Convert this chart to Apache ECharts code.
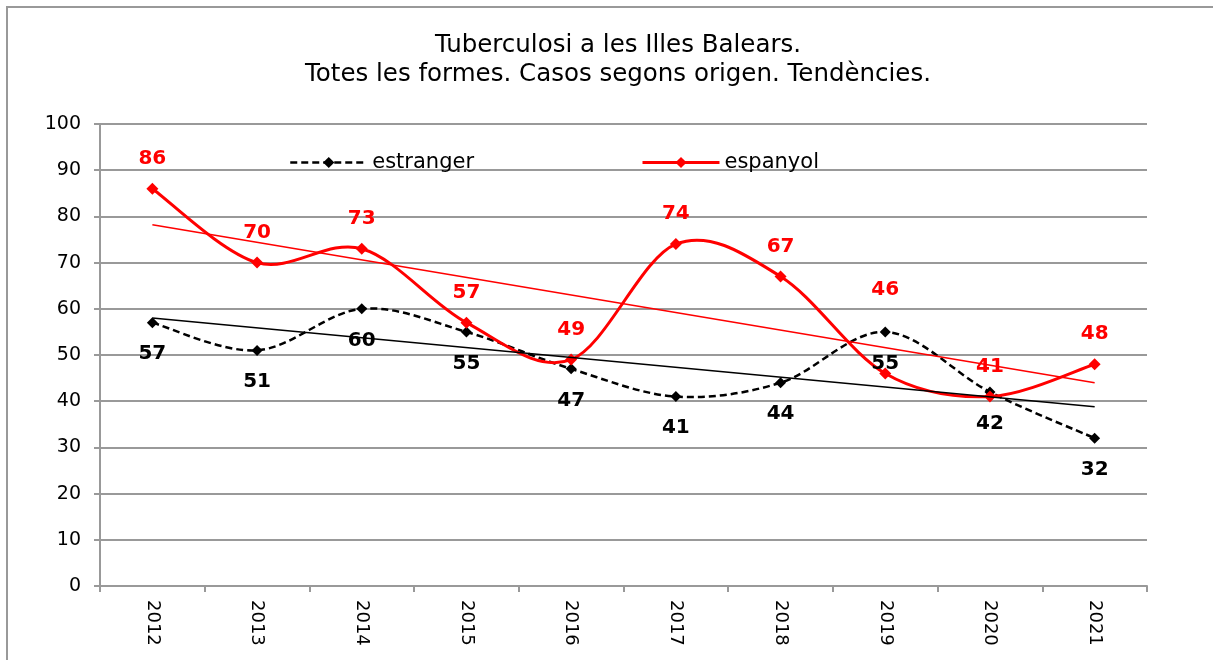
<!DOCTYPE html>
<html>
<head>
<meta charset="utf-8">
<script src="https://cdn.jsdelivr.net/npm/echarts@6/dist/echarts.min.js"></script>
<style>
  html, body { margin: 0; padding: 0; background: #fff; }
  #chart { width: 1213px; height: 660px; }
</style>
</head>
<body>
<div id="chart"></div>
<script>
// categories and values
var years = ['2012', '2013', '2014', '2015', '2016', '2017', '2018', '2019', '2020', '2021'];
var estranger = [57, 51, 60, 55, 47, 41, 44, 55, 42, 32];
var espanyol = [86, 70, 73, 57, 49, 74, 67, 46, 41, 48];
// trend line ends (first and last year), as drawn
var trendEstranger = [58.0, 38.8];
var trendEspanyol = [78.2, 44.0];

function ends(vals) {
  return [[years[0], vals[0]], [years[years.length - 1], vals[1]]];
}

// Excel-like smoothed line (Catmull-Rom through the points), drawn in axis coords
function curve(vals, color, width, dash, z) {
  return {
    type: 'custom',
    data: vals.map(function (v, i) { return [i, v]; }),
    encode: { x: 0, y: 1 },
    silent: true,
    z: z,
    renderItem: function (params, api) {
      if (params.dataIndex !== 0) return null;
      var n = vals.length;
      var p = function (j) {
        j = Math.max(0, Math.min(n - 1, j));
        return api.coord([j, vals[j]]);
      };
      var start = p(0);
      var d = 'M' + start[0] + ' ' + start[1];
      for (var i = 0; i < n - 1; i++) {
        var p0 = p(i - 1), p1 = p(i), p2 = p(i + 1), p3 = p(i + 2);
        var c1x = p1[0] + (p2[0] - p0[0]) / 6, c1y = p1[1] + (p2[1] - p0[1]) / 6;
        var c2x = p2[0] - (p3[0] - p1[0]) / 6, c2y = p2[1] - (p3[1] - p1[1]) / 6;
        d += ' C' + c1x + ' ' + c1y + ' ' + c2x + ' ' + c2y + ' ' + p2[0] + ' ' + p2[1];
      }
      return {
        type: 'path',
        shape: { pathData: d },
        style: { stroke: color, lineWidth: width, fill: null, lineDash: dash }
      };
    }
  };
}

var labelFont = { fontFamily: 'DejaVu Sans', fontWeight: 'bold', fontSize: 20 };

var espanylData = espanyol.map(function (v, i) {
  // Excel lifted the 2019 label clear of the other series
  return i === 7 ? { value: v, label: { distance: 68 } } : v;
});

var chart = echarts.init(document.getElementById('chart'), null, { renderer: 'canvas' });

chart.setOption({
  animation: false,
  backgroundColor: '#fff',
  title: {
    text: 'Tuberculosi a les Illes Balears.\nTotes les formes. Casos segons origen. Tendències.',
    left: 613,
    top: 26,
    textAlign: 'center',
    textStyle: {
      fontFamily: 'DejaVu Sans',
      fontSize: 24.5,
      fontWeight: 'normal',
      color: '#000',
      lineHeight: 29
    }
  },
  graphic: [{
    type: 'rect',
    shape: { x: 7, y: 7, width: 1300, height: 700 },
    style: { fill: 'none', stroke: '#999', lineWidth: 2 },
    silent: true
  }],
  legend: [{
    data: [{ name: 'estranger', lineStyle: { color: '#000', width: 2.5, type: [7, 4], opacity: 1 } }],
    left: 289, top: 152, padding: 0,
    itemWidth: 77, itemHeight: 14,
    textStyle: { fontFamily: 'DejaVu Sans', fontSize: 21, color: '#000' }
  }, {
    data: [{ name: 'espanyol', lineStyle: { color: '#ff0000', width: 3, type: 'solid', opacity: 1 } }],
    left: 641, top: 152, padding: 0,
    itemWidth: 77, itemHeight: 14,
    textStyle: { fontFamily: 'DejaVu Sans', fontSize: 21, color: '#000' }
  }],
  grid: { left: 100, right: 66, top: 124, bottom: 74 },
  xAxis: {
    type: 'category',
    data: years,
    boundaryGap: true,
    axisLine: { lineStyle: { color: '#999', width: 2 } },
    axisTick: { show: true, inside: false, length: 6, lineStyle: { color: '#999', width: 2 } },
    axisLabel: {
      rotate: -90,
      margin: 14,
      fontFamily: 'DejaVu Sans',
      fontSize: 18,
      color: '#000'
    },
    splitLine: { show: false }
  },
  yAxis: {
    type: 'value',
    min: 0, max: 100, interval: 10,
    axisLine: { show: true, lineStyle: { color: '#999', width: 2 } },
    axisTick: { show: true, length: 6, lineStyle: { color: '#999', width: 2 } },
    axisLabel: {
      margin: 19,
      fontFamily: 'DejaVu Sans',
      fontSize: 19,
      color: '#000'
    },
    splitLine: { show: true, lineStyle: { color: '#999', width: 2 } }
  },
  series: [
    curve(estranger, '#000', 2.5, [7, 4], 3),
    curve(espanyol, '#ff0000', 3, null, 4),
    {
      name: 'estranger',
      type: 'line',
      data: estranger,
      symbol: 'diamond',
      symbolSize: 11,
      itemStyle: { color: '#000' },
      lineStyle: { color: '#000', width: 2.5, opacity: 0 },
      label: Object.assign({ show: true, position: 'bottom', distance: 16, color: '#000' }, labelFont),
      z: 5
    }, {
      name: 'espanyol',
      type: 'line',
      data: espanylData,
      symbol: 'diamond',
      symbolSize: 12,
      itemStyle: { color: '#ff0000' },
      lineStyle: { color: '#ff0000', width: 3, opacity: 0 },
      label: Object.assign({ show: true, position: 'top', distance: 14, color: '#ff0000' }, labelFont),
      z: 6
    }, {
      name: 'tendència estranger',
      type: 'line',
      data: ends(trendEstranger),
      symbol: 'none',
      lineStyle: { color: '#000', width: 1.5 },
      z: 7
    }, {
      name: 'tendència espanyol',
      type: 'line',
      data: ends(trendEspanyol),
      symbol: 'none',
      lineStyle: { color: '#ff0000', width: 1.5 },
      z: 7
    }
  ]
});
</script>
</body>
</html>
